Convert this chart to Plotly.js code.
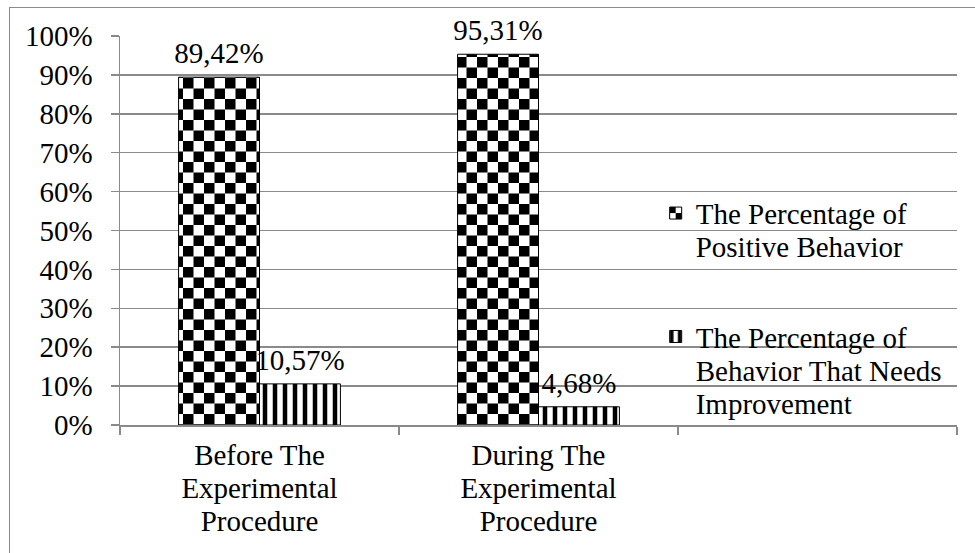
<!DOCTYPE html>
<html>
<head>
<meta charset="utf-8">
<script src="https://cdn.plot.ly/plotly-3.0.1.min.js"></script>
<style>
  html, body { margin: 0; padding: 0; background: #fff; overflow: hidden; }
  #wrap { position: relative; width: 975px; height: 553px; }
  #chart { width: 975px; height: 553px; }
  #frame { position: absolute; left: 9px; top: 7px; width: 1000px; height: 600px;
           border: 1.5px solid #8a8a8a; pointer-events: none; box-sizing: border-box; }
</style>
</head>
<body>
<div id="wrap">
  <div id="chart"></div>
  <div id="frame"></div>
</div>
<script>
// ---- data ----
var categories = [
  "Before The<br>Experimental<br>Procedure",
  "During The<br>Experimental<br>Procedure",
  " "
];
var positiveValues = [89.42, 95.31];
var improvementValues = [10.57, 4.68];
var seriesNames = [
  "The Percentage of<br>Positive Behavior",
  "The Percentage of<br>Behavior That Needs<br>Improvement"
];
var yTicks = [0, 10, 20, 30, 40, 50, 60, 70, 80, 90, 100];
var yTickLabels = ["0%", "10%", "20%", "30%", "40%", "50%", "60%", "70%", "80%", "90%", "100%"];

var FONT = "Liberation Serif";
var FS = 29;
var GRID = "#8a8a8a";

var traces = [
  {
    type: "bar",
    name: seriesNames[0],
    legendgroup: "a",
    x: categories.slice(0, 2),
    y: positiveValues,
    marker: { color: "white", line: { color: "black", width: 1 } },
    texttemplate: "%{y:.2f}%",
    textposition: "outside",
    constraintext: "none",
    cliponaxis: false,
    textfont: { family: FONT, size: FS, color: "black" }
  },
  {
    type: "bar",
    name: seriesNames[1],
    legendgroup: "b",
    x: categories.slice(0, 2),
    y: improvementValues,
    marker: {
      color: "white",
      line: { color: "black", width: 1 },
      pattern: { shape: "|", fgcolor: "black", bgcolor: "white", size: 10, solidity: 0.45 }
    },
    texttemplate: "%{y:.2f}%",
    textposition: "outside",
    constraintext: "none",
    cliponaxis: false,
    textfont: { family: FONT, size: FS, color: "black" }
  }
];

var layout = {
  width: 975,
  height: 553,
  margin: { l: 120, r: 18, t: 36, b: 128 },
  paper_bgcolor: "white",
  plot_bgcolor: "white",
  separators: ",.",
  barmode: "group",
  bargap: 0.42,
  bargroupgap: 0,
  showlegend: true,
  font: { family: FONT, size: FS, color: "black" },
  legend: {
    x: 0.64, xanchor: "left",
    y: 0.61, yanchor: "top",
    valign: "top",
    bgcolor: "rgba(0,0,0,0)",
    borderwidth: 0,
    tracegroupgap: 45,
    font: { family: FONT, size: FS, color: "black" }
  },
  xaxis: {
    type: "category",
    categoryorder: "array",
    categoryarray: categories,
    range: [-0.5, 2.5],
    showline: true, linecolor: GRID, linewidth: 1.5,
    ticks: "outside", tickson: "boundaries", ticklen: 8, tickcolor: GRID, tickwidth: 1.5,
    showgrid: false, zeroline: false,
    ticklabelstandoff: 4,
    tickfont: { family: FONT, size: FS, color: "black" }
  },
  yaxis: {
    range: [0, 100],
    tickvals: yTicks,
    ticktext: yTickLabels,
    showline: true, linecolor: GRID, linewidth: 1.5,
    ticks: "outside", ticklen: 8, tickcolor: GRID, tickwidth: 1.5,
    showgrid: true, gridcolor: GRID, gridwidth: 1.5,
    zeroline: false,
    ticklabelstandoff: 12,
    tickfont: { family: FONT, size: FS, color: "black" }
  }
};

Plotly.newPlot("chart", traces, layout, { staticPlot: true, displayModeBar: false }).then(function (gd) {
  var NS = "http://www.w3.org/2000/svg";
  var svg = gd.querySelector("svg.main-svg");
  var defs = svg.querySelector("defs");
  if (!defs) { defs = document.createElementNS(NS, "defs"); svg.insertBefore(defs, svg.firstChild); }
  function mkPattern(id, cell) {
    var p = document.createElementNS(NS, "pattern");
    p.setAttribute("id", id);
    p.setAttribute("patternUnits", "userSpaceOnUse");
    p.setAttribute("width", 2 * cell);
    p.setAttribute("height", 2 * cell);
    var r0 = document.createElementNS(NS, "rect");
    r0.setAttribute("width", 2 * cell); r0.setAttribute("height", 2 * cell); r0.setAttribute("fill", "white");
    var r1 = document.createElementNS(NS, "rect");
    r1.setAttribute("width", cell); r1.setAttribute("height", cell); r1.setAttribute("fill", "black");
    var r2 = document.createElementNS(NS, "rect");
    r2.setAttribute("x", cell); r2.setAttribute("y", cell);
    r2.setAttribute("width", cell); r2.setAttribute("height", cell); r2.setAttribute("fill", "black");
    p.appendChild(r0); p.appendChild(r1); p.appendChild(r2);
    defs.appendChild(p);
  }
  mkPattern("checkerFill", 10.5);
  mkPattern("checkerIcon", 6);
  var barTraces = gd.querySelectorAll(".barlayer .trace");
  if (barTraces.length) {
    barTraces[0].querySelectorAll("path").forEach(function (p) { p.style.fill = "url(#checkerFill)"; });
  }
  var legTraces = gd.querySelectorAll(".legend .traces");
  if (legTraces.length) {
    legTraces[0].querySelectorAll(".legendpoints path").forEach(function (p) { p.style.fill = "url(#checkerIcon)"; });
  }
  // tighter line spacing for multi-line labels (like the original)
  gd.querySelectorAll("tspan.line").forEach(function (t) {
    var dy = t.getAttribute("dy");
    if (dy && /em$/.test(dy)) {
      var n = parseFloat(dy);
      if (n > 0) t.setAttribute("dy", (n * 1.14 / 1.3).toFixed(3) + "em");
    }
  });
  // lift the value labels slightly above the bars
  gd.querySelectorAll(".barlayer text.bartext").forEach(function (t) {
    var tr = t.getAttribute("transform") || "";
    t.setAttribute("transform", "translate(0,-5) " + tr);
  });
});
</script>
</body>
</html>
